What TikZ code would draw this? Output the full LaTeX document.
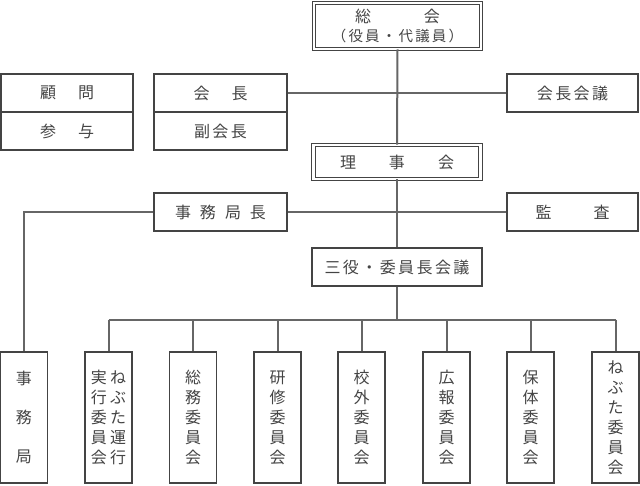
\documentclass[tikz,border=0pt]{standalone}
\usepackage{fontspec}
\newfontfamily\jp[LetterSpace=15]{Noto Sans CJK JP}
\definecolor{linegray}{HTML}{666666}
\definecolor{boxgray}{HTML}{444444}
\definecolor{textgray}{HTML}{444444}

\begin{document}
\begin{tikzpicture}[x=1pt, y=-1pt,
    box/.style={draw=boxgray, line width=1.1pt, rectangle, inner sep=0pt,
        minimum width=133pt, minimum height=38pt, text=textgray,
        font=\jp\fontsize{16}{20}\selectfont},
    dbox/.style={box, double, double distance=2.6pt, line width=0.9pt,
        minimum width=167pt},
    vbox/.style={box, minimum width=47pt, minimum height=131pt, align=center},
    conn/.style={draw=linegray, line width=2pt}]
    \useasboundingbox (0,0) rectangle (640,485);
        % top
        \node[dbox, minimum height=46pt, align=center] (sokai) at (397.5,26)
            {総\hspace{3.3em}会\\[-1pt]{\fontsize{14.5}{18}\selectfont （役員・代議員）}};
        \node[box, minimum width=132pt] (komon) at (67,93) {顧\hspace{22pt}問};
        \node[box, minimum width=132pt] (sanyo) at (67,131) {参\hspace{22pt}与};
        \node[box] (kaicho) at (220.5,93) {会\hspace{22pt}長};
        \node[box] (fukukaicho) at (220.5,131) {副会長};
        \node[box, minimum width=131pt] (kaichokaigi) at (572.5,93) {会長会議};
        % middle
        \node[dbox, minimum height=34pt] (rijikai) at (397,162)
            {理\hspace{33pt}事\hspace{33pt}会};
        \node[box] (jimukyokucho) at (220.5,212) {事\hspace{9pt}務\hspace{9pt}局\hspace{9pt}長};
        \node[box, minimum width=131pt] (kansa) at (572.5,212) {監\hspace{42pt}査};
        \node[box, minimum width=170pt] (sanyaku) at (397,267) {三役・委員長会議};
        % bottom
        \node[vbox, font=\jp\fontsize{16}{39}\selectfont] (jimukyoku) at (24,417.5) {事\\務\\局};
        \node[vbox] (nebutaj) at (108.5,417.5) {実\hspace{3.5pt}ね\\行\hspace{3.5pt}ぶ\\委\hspace{3.5pt}た\\員\hspace{3.5pt}運\\会\hspace{3.5pt}行};
        \node[vbox] (somu) at (193,417.5) {総\\務\\委\\員\\会};
        \node[vbox] (kenshu) at (277.5,417.5) {研\\修\\委\\員\\会};
        \node[vbox] (kogai) at (361.5,417.5) {校\\外\\委\\員\\会};
        \node[vbox] (koho) at (446.5,417.5) {広\\報\\委\\員\\会};
        \node[vbox] (hotai) at (530.5,417.5) {保\\体\\委\\員\\会};
        \node[vbox] (nebutai) at (615.5,417.5) {ね\\ぶ\\た\\委\\員\\会};
        % lines
        \draw[conn] (sokai.south) -- (rijikai.north);
        \draw[conn] (kaicho.east) -- (kaichokaigi.west);
        \draw[conn] (rijikai.south) -- (sanyaku.north);
        \draw[conn] (jimukyokucho.east) -- (kansa.west);
        \draw[conn] (jimukyokucho.west) -| (jimukyoku.north);
        \draw[conn] (sanyaku.south) -- ++(0,33) coordinate (bus);
        \draw[conn] (nebutaj.north |- bus) -- (nebutai.north |- bus);
        \foreach \n in {nebutaj,somu,kenshu,kogai,koho,hotai,nebutai}
            \draw[conn] (\n.north |- bus) -- (\n.north);
    \end{tikzpicture}
\end{document}
